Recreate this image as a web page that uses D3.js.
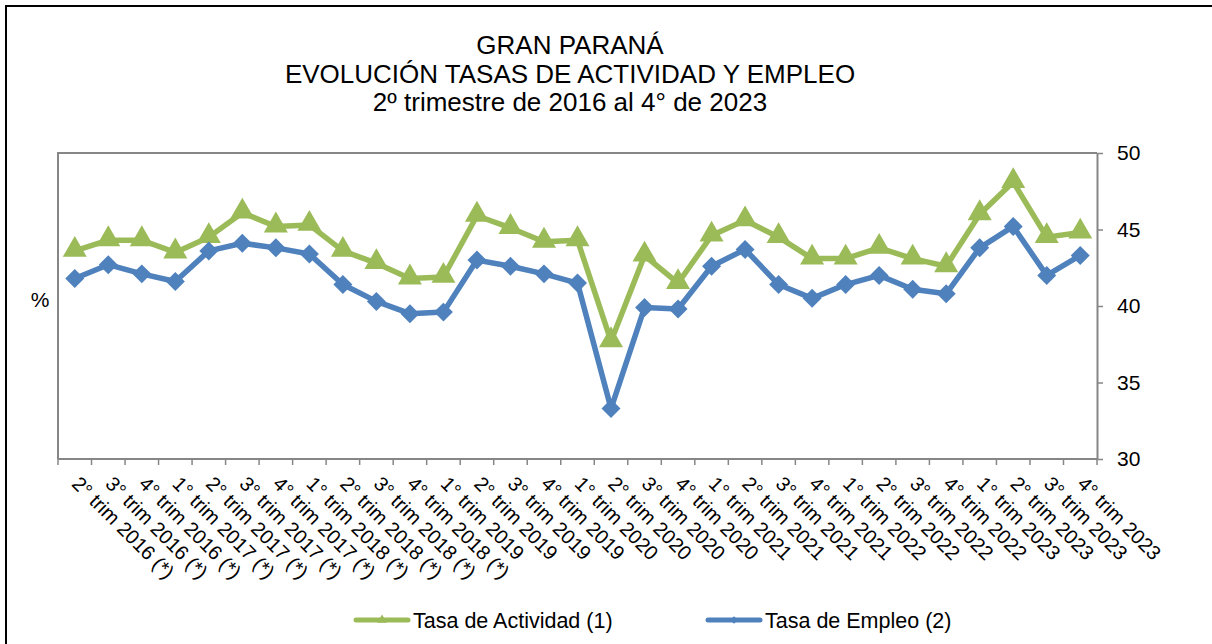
<!DOCTYPE html>
<html>
<head>
<meta charset="utf-8">
<script src="https://cdn.jsdelivr.net/npm/d3@7"></script>
<style>
  body { margin: 0; background: #fff; }
  text { font-family: "Liberation Sans", Arial, sans-serif; fill: #000; }
</style>
</head>
<body>
<div id="chart"></div>
<script>
// trimestres (los marcados con (*) llevan la nota)
const categories = [
  "2° trim 2016 (*)", "3° trim 2016 (*)", "4° trim 2016 (*)",
  "1° trim 2017 (*)", "2° trim 2017 (*)", "3° trim 2017 (*)", "4° trim 2017 (*)",
  "1° trim 2018 (*)", "2° trim 2018 (*)", "3° trim 2018 (*)", "4° trim 2018 (*)",
  "1° trim 2019", "2° trim 2019", "3° trim 2019", "4° trim 2019",
  "1° trim 2020", "2° trim 2020", "3° trim 2020", "4° trim 2020",
  "1° trim 2021", "2° trim 2021", "3° trim 2021", "4° trim 2021",
  "1° trim 2022", "2° trim 2022", "3° trim 2022", "4° trim 2022",
  "1° trim 2023", "2° trim 2023", "3° trim 2023", "4° trim 2023"
];

// Tasa de Actividad (1)
const actividad = [
  43.6, 44.3, 44.3, 43.5, 44.5, 46.1, 45.2, 45.3, 43.6, 42.8, 41.8,
  41.9, 45.9, 45.1, 44.2, 44.3, 37.7, 43.3, 41.5, 44.6, 45.6, 44.5,
  43.1, 43.1, 43.8, 43.1, 42.6, 46.0, 48.1, 44.5, 44.8
];

// Tasa de Empleo (2)
const empleo = [
  41.8, 42.7, 42.1, 41.6, 43.6, 44.1, 43.8, 43.4, 41.4, 40.3, 39.5,
  39.6, 43.0, 42.6, 42.1, 41.5, 33.3, 39.9, 39.8, 42.6, 43.7, 41.4,
  40.5, 41.4, 42.0, 41.1, 40.8, 43.8, 45.2, 42.0, 43.3
];

const yTicks = [30, 35, 40, 45, 50];

const titleLines = [
  "GRAN PARANÁ",
  "EVOLUCIÓN TASAS DE ACTIVIDAD Y EMPLEO",
  "2º trimestre de 2016 al 4° de 2023"
];

const W = 1212, H = 644;
const plot = {left: 58, right: 1097, top: 153, bottom: 459};

const green = "#9bbb59", blue = "#4f81bd", axisGrey = "#868686";

const svg = d3.select("#chart").append("svg")
  .attr("width", W).attr("height", H);

// marco exterior
svg.append("rect")
  .attr("x", 6).attr("y", 6)
  .attr("width", 1300).attr("height", 700)
  .attr("fill", "none").attr("stroke", "#000").attr("stroke-width", 2);

// titulo
svg.append("g").selectAll("text")
  .data(titleLines)
  .join("text")
  .attr("x", 570)
  .attr("y", (d, i) => 54 + i * 28.5)
  .attr("text-anchor", "middle")
  .style("font-size", "26px")
  .text(d => d);

const x = d3.scaleBand()
  .domain(categories)
  .range([plot.left, plot.right])
  .paddingInner(0).paddingOuter(0);

const y = d3.scaleLinear()
  .domain([30, 50])
  .range([plot.bottom, plot.top]);

// borde del area de grafico (arriba e izquierda)
svg.append("path")
  .attr("d", `M${plot.left},${plot.bottom}V${plot.top}H${plot.right}`)
  .attr("fill", "none").attr("stroke", axisGrey).attr("stroke-width", 2);

// eje Y a la derecha
const yAxis = svg.append("g")
  .attr("transform", `translate(${plot.right},0)`)
  .call(d3.axisRight(y).tickValues(yTicks).tickSize(6).tickSizeOuter(0).tickPadding(14));
yAxis.select(".domain").attr("stroke", axisGrey).attr("stroke-width", 2);
yAxis.selectAll(".tick line").attr("stroke", axisGrey).attr("stroke-width", 1.5);
yAxis.selectAll(".tick text")
  .style("font-family", "'Liberation Sans', Arial, sans-serif")
  .style("font-size", "21px").attr("fill", "#000");

// eje X
const xAxisG = svg.append("g");
xAxisG.append("line")
  .attr("x1", plot.left).attr("x2", plot.right)
  .attr("y1", plot.bottom).attr("y2", plot.bottom)
  .attr("stroke", axisGrey).attr("stroke-width", 2);

const tickPos = categories.map(c => x(c)).concat([plot.right]);
xAxisG.selectAll("line.tk")
  .data(tickPos)
  .join("line")
  .attr("class", "tk")
  .attr("x1", d => d).attr("x2", d => d)
  .attr("y1", plot.bottom).attr("y2", plot.bottom + 6)
  .attr("stroke", axisGrey).attr("stroke-width", 1.5);

xAxisG.selectAll("text")
  .data(categories)
  .join("text")
  .attr("transform", d => `translate(${x(d) + x.bandwidth() / 2 - 4},${plot.bottom + 26}) rotate(45)`)
  .attr("text-anchor", "start")
  .style("font-size", "20px")
  .text(d => d);

// etiqueta %
svg.append("text")
  .attr("x", 40).attr("y", 307)
  .attr("text-anchor", "middle")
  .style("font-size", "21px")
  .text("%");

const cx = i => x(categories[i]) + x.bandwidth() / 2;

const line = d3.line()
  .x((d, i) => cx(i))
  .y(d => y(d));

const triangle = d3.symbol().type(d3.symbolTriangle).size(250);
const diamond = d3.symbol().type(d3.symbolSquare).size(180);

// Tasa de Actividad
svg.append("path")
  .datum(actividad)
  .attr("d", line)
  .attr("fill", "none").attr("stroke", green)
  .attr("stroke-width", 5.5).attr("stroke-linejoin", "round");
svg.append("g").selectAll("path")
  .data(actividad)
  .join("path")
  .attr("transform", (d, i) => `translate(${cx(i)},${y(d) - 1})`)
  .attr("d", triangle)
  .attr("fill", green);

// Tasa de Empleo
svg.append("path")
  .datum(empleo)
  .attr("d", line)
  .attr("fill", "none").attr("stroke", blue)
  .attr("stroke-width", 5.5).attr("stroke-linejoin", "round");
svg.append("g").selectAll("path")
  .data(empleo)
  .join("path")
  .attr("transform", (d, i) => `translate(${cx(i)},${y(d)}) rotate(45)`)
  .attr("d", diamond)
  .attr("fill", blue);

// leyenda
const legendItems = [
  {name: "Tasa de Actividad (1)", color: green, sym: d3.symbol().type(d3.symbolTriangle).size(40), rot: 0, x: 354},
  {name: "Tasa de Empleo (2)", color: blue, sym: d3.symbol().type(d3.symbolSquare).size(30), rot: 45, x: 706}
];
const lg = svg.append("g").selectAll("g")
  .data(legendItems)
  .join("g")
  .attr("transform", d => `translate(${d.x},620)`);
lg.append("line")
  .attr("x1", 2).attr("x2", 54)
  .attr("stroke", d => d.color).attr("stroke-width", 5)
  .attr("stroke-linecap", "round");
lg.append("path")
  .attr("transform", d => `translate(28,0) rotate(${d.rot})`)
  .attr("d", d => d.sym())
  .attr("fill", d => d.color);
lg.append("text")
  .attr("x", 59).attr("y", 8)
  .style("font-size", "21.5px")
  .text(d => d.name);
</script>
</body>
</html>
